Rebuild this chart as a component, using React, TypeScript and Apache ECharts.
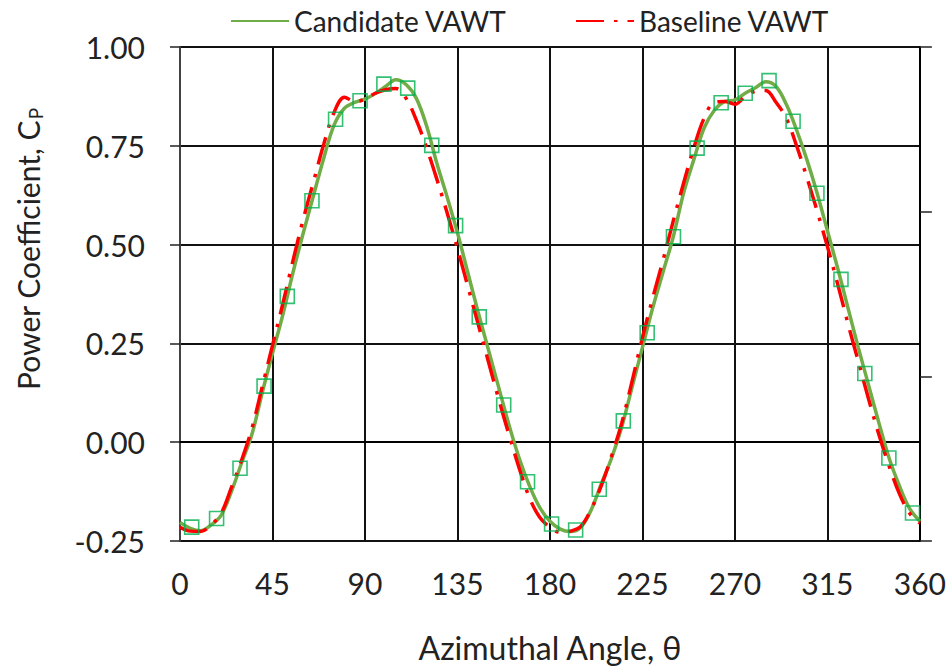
import React, { useEffect, useRef } from 'react';
import * as echarts from 'echarts';

const angles = [
  0, 5, 10, 15, 20, 25, 30, 35, 40, 45, 50, 55, 60, 65, 70, 75, 80, 85, 90, 95,
  100, 105, 110, 115, 120, 125, 130, 135, 140, 145, 150, 155, 160, 165, 170, 175,
  180, 185, 190, 195, 200, 205, 210, 215, 220, 225, 230, 235, 240, 245, 250, 255,
  260, 265, 270, 275, 280, 285, 290, 295, 300, 305, 310, 315, 320, 325, 330, 335,
  340, 345, 350, 355, 360,
];

const candidateCp = [
  -0.203, -0.218, -0.224, -0.21, -0.185, -0.125, -0.052, 0.02, 0.125, 0.225,
  0.322, 0.43, 0.53, 0.625, 0.72, 0.803, 0.845, 0.86, 0.868, 0.882,
  0.9, 0.917, 0.905, 0.87, 0.8, 0.705, 0.62, 0.53, 0.43, 0.33,
  0.235, 0.14, 0.045, -0.04, -0.11, -0.165, -0.2, -0.22, -0.226, -0.215,
  -0.172, -0.105, -0.04, 0.04, 0.14, 0.24, 0.34, 0.43, 0.52, 0.63,
  0.715, 0.795, 0.84, 0.862, 0.866, 0.883, 0.897, 0.912, 0.9, 0.855,
  0.79, 0.715, 0.63, 0.535, 0.44, 0.34, 0.24, 0.145, 0.05, -0.04,
  -0.11, -0.168, -0.2,
];

const baselineCp = [
  -0.215, -0.225, -0.226, -0.21, -0.18, -0.115, -0.045, 0.035, 0.14, 0.245,
  0.35, 0.46, 0.565, 0.66, 0.755, 0.835, 0.873, 0.862, 0.868, 0.883,
  0.892, 0.895, 0.87, 0.815, 0.745, 0.665, 0.58, 0.49, 0.395, 0.3,
  0.205, 0.11, 0.02, -0.065, -0.14, -0.19, -0.215, -0.228, -0.225, -0.213,
  -0.17, -0.11, -0.035, 0.05, 0.155, 0.265, 0.365, 0.46, 0.56, 0.655,
  0.745, 0.82, 0.86, 0.862, 0.855, 0.875, 0.888, 0.89, 0.86, 0.82,
  0.75, 0.67, 0.585, 0.495, 0.4, 0.3, 0.205, 0.11, 0.02, -0.06,
  -0.13, -0.18, -0.205,
];

const markerAngles = [
  5.7, 17.8, 29.2, 40.9, 52.2, 64.2, 75.7, 87.6, 99.2, 110.8, 122.5, 134.1,
  145.6, 157.5, 169.1, 180.8, 192.5, 204.0, 215.7, 227.3, 240.1, 251.6, 263.3,
  275.0, 286.6, 298.3, 309.9, 321.6, 333.2, 344.9, 356.4,
];
const markerCp = [
  -0.215, -0.193, -0.066, 0.142, 0.369, 0.611, 0.817, 0.864, 0.906, 0.896,
  0.751, 0.548, 0.317, 0.094, -0.1, -0.207, -0.222, -0.119, 0.054, 0.277,
  0.52, 0.744, 0.859, 0.883, 0.915, 0.812, 0.63, 0.412, 0.174, -0.04, -0.179,
];

const xTicks = { min: 0, max: 360, interval: 45 };
const yTicks = { min: -0.25, max: 1.0, interval: 0.25 };

const FONT = 'Lato';
const TEXT = '#222';

export default function App() {
  const ref = useRef<HTMLDivElement>(null);
  useEffect(() => {
    const chart = echarts.init(ref.current!, null, { renderer: 'svg' });
    chart.setOption({
      animation: false,
      textStyle: { fontFamily: FONT },
      grid: { left: 180, right: 29, top: 47, bottom: 126, containLabel: false },
      legend: [
        {
          data: ['Candidate VAWT'],
          left: 225,
          top: 2,
          itemWidth: 58,
          itemHeight: 14,
          itemStyle: { opacity: 0 },
          textStyle: { fontSize: 28, color: TEXT, fontFamily: FONT },
        },
        {
          data: ['Baseline VAWT'],
          left: 570,
          top: 2,
          itemWidth: 58,
          itemHeight: 14,
          itemStyle: { opacity: 0 },
          textStyle: { fontSize: 28, color: TEXT, fontFamily: FONT },
        },
      ],
      xAxis: {
        type: 'value',
        min: xTicks.min,
        max: xTicks.max,
        interval: xTicks.interval,
        axisLine: { show: true, lineStyle: { color: '#000', width: 2 } },
        axisTick: { show: false },
        splitLine: { show: true, lineStyle: { color: '#111', width: 2 } },
        axisLabel: { fontSize: 30, color: TEXT, margin: 27, fontFamily: FONT },
        name: 'Azimuthal Angle, θ',
        nameLocation: 'middle',
        nameGap: 90,
        nameTextStyle: { fontSize: 32, color: TEXT, fontFamily: FONT },
      },
      yAxis: [
        {
          type: 'value',
          min: yTicks.min,
          max: yTicks.max,
          interval: yTicks.interval,
          axisLine: { show: true, lineStyle: { color: '#555', width: 1.5 } },
          axisTick: { show: true, inside: false, length: 10, lineStyle: { color: '#222', width: 1.5 } },
          splitLine: { show: true, lineStyle: { color: '#111', width: 2 } },
          axisLabel: {
            fontSize: 30,
            color: TEXT,
            margin: 35,
            fontFamily: FONT,
            formatter: (v: number) => v.toFixed(2),
          },
        },
        {
          type: 'value',
          position: 'right',
          min: 0,
          max: 3,
          interval: 1,
          axisLine: { show: true, lineStyle: { color: '#000', width: 2 } },
          axisTick: { show: true, inside: false, length: 12, lineStyle: { color: '#222', width: 1.5 } },
          axisLabel: { show: false },
          splitLine: { show: false },
        },
      ],
      graphic: [
        {
          type: 'text',
          x: 28,
          y: 249,
          rotation: Math.PI / 2,
          style: {
            text: '{a|Power Coefficient, C}{b|P}',
            align: 'center',
            verticalAlign: 'middle',
            fill: TEXT,
            rich: {
              a: { fontSize: 30, fontFamily: FONT, fill: TEXT, lineHeight: 36 },
              b: { fontSize: 19, fontFamily: FONT, fill: TEXT, lineHeight: 36, padding: [15, 0, 0, 1] },
            },
          },
        },
      ],
      series: [
        {
          name: 'Candidate VAWT',
          type: 'line',
          data: angles.map((a, i) => [a, candidateCp[i]]),
          symbol: 'none',
          smooth: 0.35,
          color: '#70AD47',
          lineStyle: { color: '#70AD47', width: 3.5 },
          z: 2,
        },
        {
          name: 'Baseline VAWT',
          type: 'line',
          data: angles.map((a, i) => [a, baselineCp[i]]),
          symbol: 'none',
          smooth: 0.35,
          color: '#FF0000',
          lineStyle: { color: '#FF0000', width: 3.5, type: [28, 10, 3.5, 10] },
          z: 3,
        },
        {
          name: 'CFD',
          type: 'scatter',
          data: markerAngles.map((a, i) => [a, markerCp[i]]),
          symbol: 'rect',
          symbolSize: 14,
          itemStyle: { color: 'rgba(0,0,0,0)', borderColor: '#00B050', borderWidth: 1.6 },
          z: 4,
        },
      ],
    });
    return () => chart.dispose();
  }, []);
  return (
    <div
      ref={ref}
      style={{ position: 'fixed', left: 0, top: 0, width: 949, height: 668, background: '#fff' }}
    />
  );
}
